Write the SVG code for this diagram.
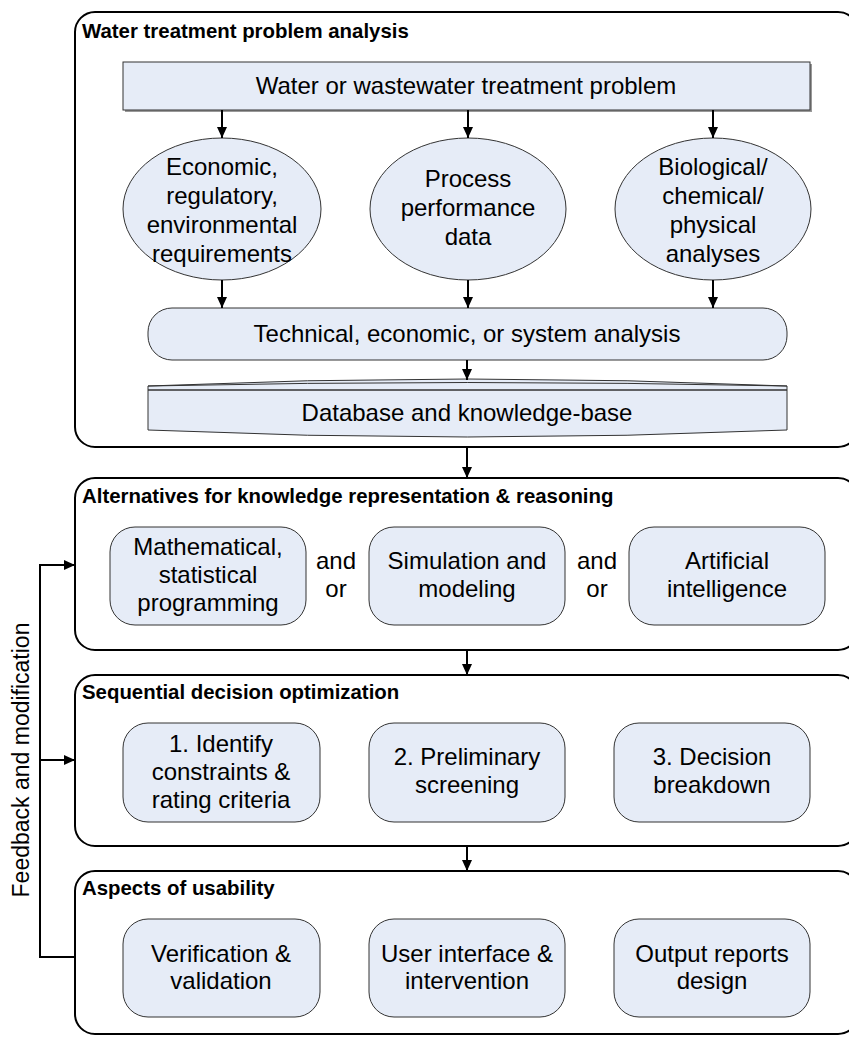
<svg xmlns="http://www.w3.org/2000/svg" width="849" height="1038" viewBox="0 0 849 1038">
<defs>
<marker id="ah" markerUnits="userSpaceOnUse" markerWidth="12" markerHeight="10" refX="11" refY="5" orient="auto">
<path d="M0,0 L11,5 L0,10 Z" fill="#000"/>
</marker>
</defs>
<style>
.panel{fill:#fff;stroke:#000;stroke-width:2}
.node{fill:#E6ECF7;stroke:#333;stroke-width:1}
.t{font-family:"Liberation Sans",Arial,sans-serif;font-size:24px;fill:#000;text-anchor:middle}
.h{font-family:"Liberation Sans",Arial,sans-serif;font-size:20.4px;font-weight:bold;fill:#000}
.c{fill:none;stroke:#000;stroke-width:2}
</style>
<rect width="849" height="1038" fill="#fff"/>

<g id="panel1">
<rect class="panel" x="75" y="12" width="783" height="435" rx="20"/>
<text class="h" x="82" y="38">Water treatment problem analysis</text>
</g>
<g id="panel2">
<rect class="panel" x="75" y="478" width="783" height="172" rx="20"/>
<text class="h" x="82" y="503">Alternatives for knowledge representation &amp; reasoning</text>
</g>
<g id="panel3">
<rect class="panel" x="75" y="675" width="783" height="171" rx="20"/>
<text class="h" x="82" y="699">Sequential decision optimization</text>
</g>
<g id="panel4">
<rect class="panel" x="75" y="871" width="783" height="163" rx="20"/>
<text class="h" x="82" y="895">Aspects of usability</text>
</g>

<g id="problem">
<rect x="125" y="64" width="687" height="48" fill="#999"/>
<rect class="node" x="123" y="62" width="687" height="48"/>
<text class="t" x="466" y="94">Water or wastewater treatment problem</text>
</g>
<g id="requirements">
<ellipse class="node" cx="222" cy="209" rx="99" ry="71"/>
<text class="t" x="222" y="175">Economic,</text>
<text class="t" x="222" y="204">regulatory,</text>
<text class="t" x="222" y="233">environmental</text>
<text class="t" x="222" y="262">requirements</text>
</g>
<g id="performance">
<ellipse class="node" cx="468" cy="209" rx="98" ry="71"/>
<text class="t" x="468" y="187">Process</text>
<text class="t" x="468" y="216">performance</text>
<text class="t" x="468" y="245">data</text>
</g>
<g id="analyses">
<ellipse class="node" cx="713" cy="209" rx="98" ry="71"/>
<text class="t" x="713" y="175">Biological/</text>
<text class="t" x="713" y="204">chemical/</text>
<text class="t" x="713" y="233">physical</text>
<text class="t" x="713" y="262">analyses</text>
</g>
<g id="technical">
<rect class="node" x="148" y="308" width="639" height="52" rx="24"/>
<text class="t" x="467" y="342">Technical, economic, or system analysis</text>
</g>
<g id="database">
<path class="node" d="M148,386 Q467,372 787,386 L787,430 Q467,444 148,430 Z"/>
<path d="M148,386 Q467,379 787,386" fill="none" stroke="#333" stroke-width="1"/>
<path d="M148,390 L787,390" fill="none" stroke="#333" stroke-width="1.5"/>
<text class="t" x="467" y="421">Database and knowledge-base</text>
</g>

<g id="math">
<rect class="node" x="110" y="527" width="196" height="98" rx="25"/>
<text class="t" x="208" y="555">Mathematical,</text>
<text class="t" x="208" y="583">statistical</text>
<text class="t" x="208" y="611">programming</text>
</g>
<g id="andor1">
<text class="t" x="336" y="569">and</text>
<text class="t" x="336" y="597">or</text>
</g>
<g id="simulation">
<rect class="node" x="369" y="527" width="196" height="98" rx="25"/>
<text class="t" x="467" y="569">Simulation and</text>
<text class="t" x="467" y="597">modeling</text>
</g>
<g id="andor2">
<text class="t" x="597" y="569">and</text>
<text class="t" x="597" y="597">or</text>
</g>
<g id="ai">
<rect class="node" x="629" y="527" width="196" height="98" rx="25"/>
<text class="t" x="727" y="569">Artificial</text>
<text class="t" x="727" y="597">intelligence</text>
</g>

<g id="identify">
<rect class="node" x="123" y="723" width="197" height="99" rx="25"/>
<text class="t" x="221" y="752">1. Identify</text>
<text class="t" x="221" y="780">constraints &amp;</text>
<text class="t" x="221" y="808">rating criteria</text>
</g>
<g id="screening">
<rect class="node" x="369" y="723" width="196" height="99" rx="25"/>
<text class="t" x="467" y="765">2. Preliminary</text>
<text class="t" x="467" y="793">screening</text>
</g>
<g id="breakdown">
<rect class="node" x="614" y="723" width="196" height="99" rx="25"/>
<text class="t" x="712" y="765">3. Decision</text>
<text class="t" x="712" y="793">breakdown</text>
</g>

<g id="verification">
<rect class="node" x="123" y="919" width="197" height="98" rx="25"/>
<text class="t" x="221" y="962">Verification &amp;</text>
<text class="t" x="221" y="989">validation</text>
</g>
<g id="userinterface">
<rect class="node" x="369" y="919" width="196" height="98" rx="25"/>
<text class="t" x="467" y="962">User interface &amp;</text>
<text class="t" x="467" y="989">intervention</text>
</g>
<g id="output">
<rect class="node" x="614" y="919" width="196" height="98" rx="25"/>
<text class="t" x="712" y="962">Output reports</text>
<text class="t" x="712" y="989">design</text>
</g>

<g id="feedback-label">
<text class="t" x="0" y="0" transform="translate(29,760) rotate(-90)" style="font-size:23px">Feedback and modification</text>
</g>

<g id="connectors">
<line class="c" x1="222" y1="110" x2="222" y2="138" marker-end="url(#ah)"/>
<line class="c" x1="468" y1="110" x2="468" y2="138" marker-end="url(#ah)"/>
<line class="c" x1="713" y1="110" x2="713" y2="138" marker-end="url(#ah)"/>
<line class="c" x1="222" y1="280" x2="222" y2="308" marker-end="url(#ah)"/>
<line class="c" x1="468" y1="280" x2="468" y2="308" marker-end="url(#ah)"/>
<line class="c" x1="713" y1="280" x2="713" y2="308" marker-end="url(#ah)"/>
<line class="c" x1="467" y1="360" x2="467" y2="380" marker-end="url(#ah)"/>
<line class="c" x1="467" y1="448" x2="467" y2="478" marker-end="url(#ah)"/>
<line class="c" x1="467" y1="651" x2="467" y2="675" marker-end="url(#ah)"/>
<line class="c" x1="467" y1="847" x2="467" y2="871" marker-end="url(#ah)"/>
<path class="c" d="M75,957 H40 V565 H75" marker-end="url(#ah)"/>
<line class="c" x1="40" y1="760" x2="75" y2="760" marker-end="url(#ah)"/>
</g>
</svg>
